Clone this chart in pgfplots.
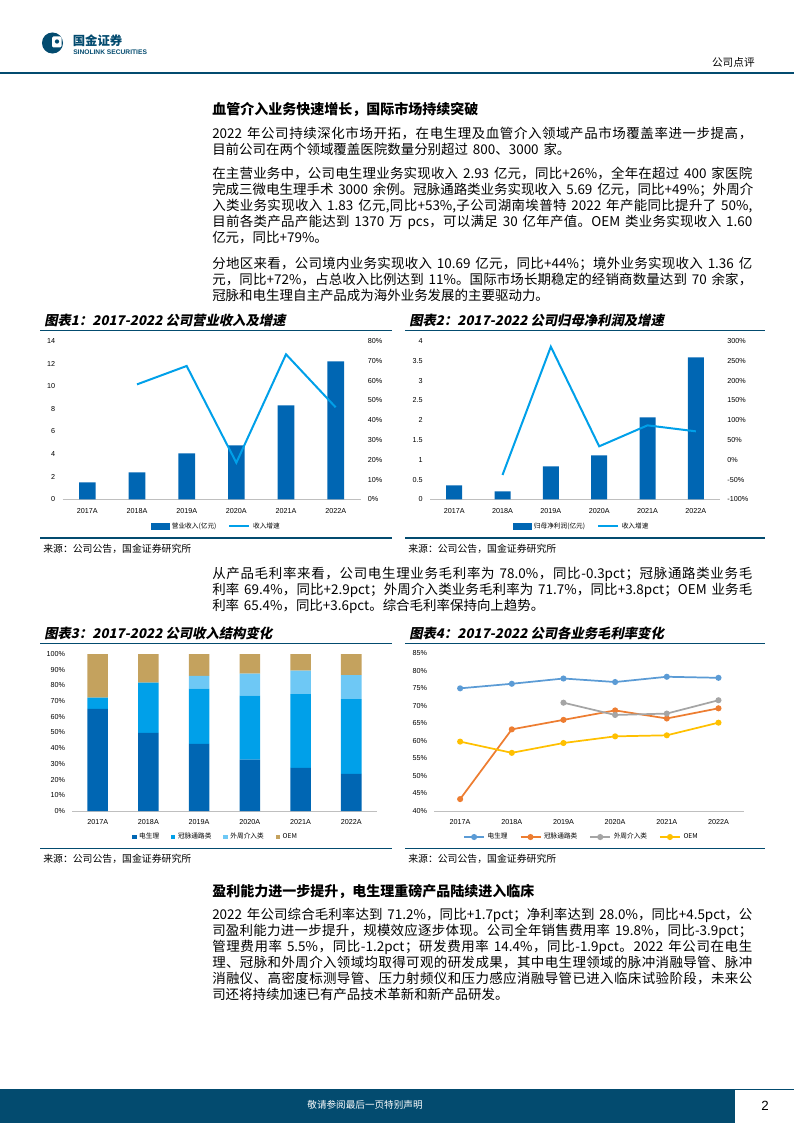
\documentclass[border=0pt]{standalone}
\usepackage{pgfplots}
\pgfplotsset{compat=1.18}
\usepackage{fontspec}
\setmainfont{Noto Sans CJK SC}
\newfontfamily\arialf{Liberation Sans}
\newfontfamily\cjkti[FakeSlant=0.2]{Noto Sans CJK SC}

\newXeTeXintercharclass\cjkclass
\newcount\cc
\cc="4E00 \loop \XeTeXcharclass\cc=\cjkclass \advance\cc by 1 \ifnum\cc<"A000 \repeat
\cc="3000 \loop \XeTeXcharclass\cc=\cjkclass \advance\cc by 1 \ifnum\cc<"3040 \repeat
\cc="FF00 \loop \XeTeXcharclass\cc=\cjkclass \advance\cc by 1 \ifnum\cc<"FFF0 \repeat
\XeTeXinterchartoks\cjkclass\cjkclass={\hskip0pt plus 1pt\relax}
\XeTeXinterchartoks 0 \cjkclass={\hskip0pt plus 1pt\relax}
\XeTeXinterchartoks\cjkclass 0 ={\hskip0pt plus 1pt\relax}
\XeTeXinterchartokenstate=1

\definecolor{navy}{RGB}{3,75,111}
\definecolor{barblue}{RGB}{0,102,179}
\definecolor{lineblue}{RGB}{0,160,233}
\definecolor{midblue}{RGB}{0,160,233}
\definecolor{lightblue}{RGB}{110,200,245}
\definecolor{tan}{RGB}{196,162,94}
\definecolor{oa}{RGB}{91,155,213}
\definecolor{ob}{RGB}{237,125,49}
\definecolor{oc}{RGB}{165,165,165}
\definecolor{od}{RGB}{255,192,0}
\definecolor{axisgray}{RGB}{191,191,191}

\newcommand\J[1]{\makebox[405pt][s]{\spaceskip=3.6pt plus 0.3pt\relax #1}}
\newcommand\bodyf{\fontsize{10.1}{12}\selectfont\spaceskip=3.6pt\relax}
\newcommand\headf{\bfseries\fontsize{10.5}{12}\selectfont}
\newcommand\titf{\cjkti\bfseries\fontsize{10}{12}\selectfont}
\newcommand\srcf{\fontsize{7.4}{9}\selectfont}

\pgfplotsset{
  rep/.style={scale only axis, xmin=-0.5, xmax=5.5,
    tick style={draw=none},
    tick label style={font=\arialf\fontsize{5.4}{6}\selectfont},
    /pgf/number format/assume math mode=true,
    clip=false},
  leftax/.style={rep, xtick={0,...,5},
    xticklabels={2017A,2018A,2019A,2020A,2021A,2022A},
    axis x line*=bottom, axis y line*=left,
    x axis line style={draw=axisgray,-}, y axis line style={draw=none},
    xticklabel style={yshift=-3pt}, yticklabel style={xshift=-2pt}},
  rightax/.style={rep, xtick=\empty, axis x line=none, axis y line*=right,
    y axis line style={draw=none}, yticklabel style={xshift=2pt}},
  leg/.style={legend style={draw=none, fill=none, legend columns=-1,
    font=\fontsize{5}{6}\selectfont, inner sep=0pt,
    /tikz/every even column/.append style={column sep=7pt}}},
}

\begin{document}
\begin{tikzpicture}[x=0.75pt,y=-0.75pt]
\path[use as bounding box] (0,0) rectangle (794,1123);

% header
\fill[navy] (52.5,43) circle (7.9pt);
\fill[white,rounded corners=1pt] (52,36.5) rectangle (61.5,47.5);
\fill[navy] (57,41.5) circle (1.6pt);
\node[anchor=base west,inner sep=0,text=navy,font=\bfseries\fontsize{9.3}{10}\selectfont] at (72.5,46) {国金证券};
\node[anchor=base west,inner sep=0,text=navy,font=\arialf\bfseries\fontsize{5}{6}\selectfont] at (73,55) {SINOLINK SECURITIES};
\node[anchor=base east,inner sep=0,font=\fontsize{8}{9}\selectfont] at (755,67) {公司点评};
\draw[navy,line width=1.1pt] (0,73) -- (794,73);

% section 1
\node[anchor=base west,inner sep=0,font=\headf] at (212,114.5) {血管介入业务快速增长，国际市场持续突破};
\node[anchor=base west,inner sep=0,font=\bodyf] at (212,138.3) {\J{2022 年公司持续深化市场开拓，在电生理及血管介入领域产品市场覆盖率进一步提高，}};
\node[anchor=base west,inner sep=0,font=\bodyf] at (212,154.3) {目前公司在两个领域覆盖医院数量分别超过 800、3000 家。};

\node[anchor=base west,inner sep=0,font=\bodyf] at (212,178.3) {\J{在主营业务中，公司电生理业务实现收入 2.93 亿元，同比+26\%，全年在超过 400 家医院}};
\node[anchor=base west,inner sep=0,font=\bodyf] at (212,194.3) {\J{完成三微电生理手术 3000 余例。冠脉通路类业务实现收入 5.69 亿元，同比+49\%；外周介}};
\node[anchor=base west,inner sep=0,font=\bodyf] at (212,210.3) {\J{入类业务实现收入 1.83 亿元,同比+53\%,子公司湖南埃普特 2022 年产能同比提升了 50\%,}};
\node[anchor=base west,inner sep=0,font=\bodyf] at (212,226.3) {\J{目前各类产品产能达到 1370 万 pcs，可以满足 30 亿年产值。OEM 类业务实现收入 1.60}};
\node[anchor=base west,inner sep=0,font=\bodyf] at (212,242.3) {亿元，同比+79\%。};

\node[anchor=base west,inner sep=0,font=\bodyf] at (212,268.3) {\J{分地区来看，公司境内业务实现收入 10.69 亿元，同比+44\%；境外业务实现收入 1.36 亿}};
\node[anchor=base west,inner sep=0,font=\bodyf] at (212,284.3) {\J{元，同比+72\%，占总收入比例达到 11\%。国际市场长期稳定的经销商数量达到 70 余家，}};
\node[anchor=base west,inner sep=0,font=\bodyf] at (212,300.3) {冠脉和电生理自主产品成为海外业务发展的主要驱动力。};

% chart titles row 1
\node[anchor=base west,inner sep=0,font=\titf] at (44,325) {图表1：2017-2022 公司营业收入及增速};
\node[anchor=base west,inner sep=0,font=\titf] at (409,325) {图表2：2017-2022 公司归母净利润及增速};
\draw[navy,line width=1pt] (40,330.5) -- (392,330.5);
\draw[navy,line width=1pt] (405,330.5) -- (765,330.5);
\draw[navy,line width=1pt] (40,538) -- (392,538);
\draw[navy,line width=1pt] (405,538) -- (765,538);
\node[anchor=base west,inner sep=0,font=\srcf] at (43,552) {来源：公司公告，国金证券研究所};
\node[anchor=base west,inner sep=0,font=\srcf] at (408,552) {来源：公司公告，国金证券研究所};

% chart 1
\coordinate (A1) at (62.5,499.3);
\begin{axis}[leftax, at={(A1)}, anchor=south west, width=223.5pt, height=118.7pt,
  ymin=0, ymax=14, ytick={0,2,...,14}]
\addplot[ybar, bar width=12.5pt, fill=barblue, draw=none] coordinates {(0,1.50)(1,2.39)(2,4.07)(3,4.77)(4,8.31)(5,12.2)};
\end{axis}
\begin{axis}[rightax, leg, at={(A1)}, anchor=south west, width=223.5pt, height=118.7pt,
  ymin=0, ymax=80, ytick={0,10,...,80}, yticklabel={\pgfmathprintnumber{\tick}\%},
  legend style={at={(0.517,-0.17)}, anchor=center}]
\addlegendimage{legend image code/.code={\fill[barblue] (0pt,-2.5pt) rectangle (13.5pt,2.5pt);}}
\addlegendentry{营业收入(亿元)}
\addplot[lineblue, line width=1.5pt, legend image code/.code={\draw[lineblue,line width=1.5pt] (0pt,0pt)--(15pt,0pt);}] coordinates {(1,58.1)(2,67.4)(3,18.5)(4,73.3)(5,46.5)};
\addlegendentry{收入增速}
\end{axis}

% chart 2
\coordinate (A2) at (430,499.3);
\begin{axis}[leftax, at={(A2)}, anchor=south west, width=217.5pt, height=118.7pt,
  ymin=0, ymax=4, ytick={0,0.5,...,4}]
\addplot[ybar, bar width=12pt, fill=barblue, draw=none] coordinates {(0,0.354)(1,0.20)(2,0.834)(3,1.11)(4,2.07)(5,3.59)};
\end{axis}
\begin{axis}[rightax, leg, at={(A2)}, anchor=south west, width=217.5pt, height=118.7pt,
  ymin=-100, ymax=300, ytick={-100,-50,...,300}, yticklabel={\pgfmathprintnumber{\tick}\%},
  legend style={at={(0.524,-0.17)}, anchor=center}]
\addlegendimage{legend image code/.code={\fill[barblue] (0pt,-2.5pt) rectangle (13.5pt,2.5pt);}}
\addlegendentry{归母净利润(亿元)}
\addplot[lineblue, line width=1.5pt, legend image code/.code={\draw[lineblue,line width=1.5pt] (0pt,0pt)--(15pt,0pt);}] coordinates {(1,-38.5)(2,285.7)(3,33.9)(4,86.9)(5,71.8)};
\addlegendentry{收入增速}
\end{axis}

% paragraph 4
\node[anchor=base west,inner sep=0,font=\bodyf] at (212,578.3) {\J{从产品毛利率来看，公司电生理业务毛利率为 78.0\%，同比-0.3pct；冠脉通路类业务毛}};
\node[anchor=base west,inner sep=0,font=\bodyf] at (212,594.3) {\J{利率 69.4\%，同比+2.9pct；外周介入类业务毛利率为 71.7\%，同比+3.8pct；OEM 业务毛}};
\node[anchor=base west,inner sep=0,font=\bodyf] at (212,610.3) {利率 65.4\%，同比+3.6pct。综合毛利率保持向上趋势。};

% chart titles row 2
\node[anchor=base west,inner sep=0,font=\titf] at (44,638) {图表3：2017-2022 公司收入结构变化};
\node[anchor=base west,inner sep=0,font=\titf] at (409,638) {图表4：2017-2022 公司各业务毛利率变化};
\draw[navy,line width=1pt] (40,643.5) -- (392,643.5);
\draw[navy,line width=1pt] (405,643.5) -- (765,643.5);
\draw[navy,line width=1pt] (40,848.5) -- (392,848.5);
\draw[navy,line width=1pt] (405,848.5) -- (765,848.5);
\node[anchor=base west,inner sep=0,font=\srcf] at (43,862) {来源：公司公告，国金证券研究所};
\node[anchor=base west,inner sep=0,font=\srcf] at (408,862) {来源：公司公告，国金证券研究所};

% chart 3
\coordinate (A3) at (72.3,811);
\begin{axis}[leftax, leg, at={(A3)}, anchor=south west, width=228.3pt, height=117.75pt,
  ybar stacked, bar width=15.5pt,
  ymin=0, ymax=100, ytick={0,10,...,100}, yticklabel={\pgfmathprintnumber{\tick}\%},
  xticklabel style={yshift=0pt},
  legend style={at={(0.472,-0.165)}, anchor=center}]
\addplot[fill=barblue, draw=none, legend image code/.code={\fill[barblue] (0pt,-1.6pt) rectangle (3.2pt,1.6pt);}] coordinates {(0,65.0)(1,49.7)(2,42.7)(3,32.7)(4,27.4)(5,23.6)};
\addlegendentry{电生理}
\addplot[fill=midblue, draw=none, legend image code/.code={\fill[midblue] (0pt,-1.6pt) rectangle (3.2pt,1.6pt);}] coordinates {(0,7.2)(1,32.0)(2,35.2)(3,40.8)(4,47.1)(5,47.7)};
\addlegendentry{冠脉通路类}
\addplot[fill=lightblue, draw=none, legend image code/.code={\fill[lightblue] (0pt,-1.6pt) rectangle (3.2pt,1.6pt);}] coordinates {(0,0)(1,0)(2,8.1)(3,14.0)(4,14.9)(5,15.3)};
\addlegendentry{外周介入类}
\addplot[fill=tan, draw=none, legend image code/.code={\fill[tan] (0pt,-1.6pt) rectangle (3.2pt,1.6pt);}] coordinates {(0,27.8)(1,18.3)(2,14.0)(3,12.5)(4,10.6)(5,13.4)};
\addlegendentry{OEM}
\end{axis}

% chart 4
\coordinate (A4) at (434.3,811);
\begin{axis}[leftax, leg, at={(A4)}, anchor=south west, width=232.5pt, height=118.3pt,
  ymin=40, ymax=85, ytick={40,45,...,85}, yticklabel={\pgfmathprintnumber{\tick}\%},
  legend style={at={(0.476,-0.165)}, anchor=center},
  legend image code/.code={\draw[mark repeat=2,mark phase=2] plot coordinates {(0pt,0pt) (7.5pt,0pt) (15pt,0pt)};}]
\addplot[oa, line width=1.3pt, mark=*, mark size=1.6pt] coordinates {(0,75.0)(1,76.3)(2,77.8)(3,76.8)(4,78.3)(5,78.0)};
\addlegendentry{电生理}
\addplot[ob, line width=1.3pt, mark=*, mark size=1.6pt] coordinates {(0,43.4)(1,63.3)(2,66.0)(3,68.7)(4,66.4)(5,69.3)};
\addlegendentry{冠脉通路类}
\addplot[oc, line width=1.3pt, mark=*, mark size=1.6pt] coordinates {(2,70.9)(3,67.4)(4,67.8)(5,71.6)};
\addlegendentry{外周介入类}
\addplot[od, line width=1.3pt, mark=*, mark size=1.6pt] coordinates {(0,59.8)(1,56.6)(2,59.4)(3,61.3)(4,61.6)(5,65.2)};
\addlegendentry{OEM}
\end{axis}

% section 2
\node[anchor=base west,inner sep=0,font=\headf] at (212,896) {盈利能力进一步提升，电生理重磅产品陆续进入临床};
\node[anchor=base west,inner sep=0,font=\bodyf] at (212,919.3) {\J{2022 年公司综合毛利率达到 71.2\%，同比+1.7pct；净利率达到 28.0\%，同比+4.5pct，公}};
\node[anchor=base west,inner sep=0,font=\bodyf] at (212,935) {\J{司盈利能力进一步提升，规模效应逐步体现。公司全年销售费用率 19.8\%，同比-3.9pct；}};
\node[anchor=base west,inner sep=0,font=\bodyf] at (212,951) {\J{管理费用率 5.5\%，同比-1.2pct；研发费用率 14.4\%，同比-1.9pct。2022 年公司在电生}};
\node[anchor=base west,inner sep=0,font=\bodyf] at (212,967) {\J{理、冠脉和外周介入领域均取得可观的研发成果，其中电生理领域的脉冲消融导管、脉冲}};
\node[anchor=base west,inner sep=0,font=\bodyf] at (212,983) {\J{消融仪、高密度标测导管、压力射频仪和压力感应消融导管已进入临床试验阶段，未来公}};
\node[anchor=base west,inner sep=0,font=\bodyf] at (212,999) {司还将持续加速已有产品技术革新和新产品研发。};

% footer
\fill[navy] (0,1089) rectangle (735,1123);
\draw[navy,line width=0.8pt] (735,1089.5) -- (794,1089.5);
\node[inner sep=0,text=white,font=\fontsize{7.2}{8}\selectfont] at (365,1105) {敬请参阅最后一页特别声明};
\node[inner sep=0,font=\arialf\fontsize{10}{12}\selectfont] at (765,1106) {2};
\end{tikzpicture}
\end{document}
